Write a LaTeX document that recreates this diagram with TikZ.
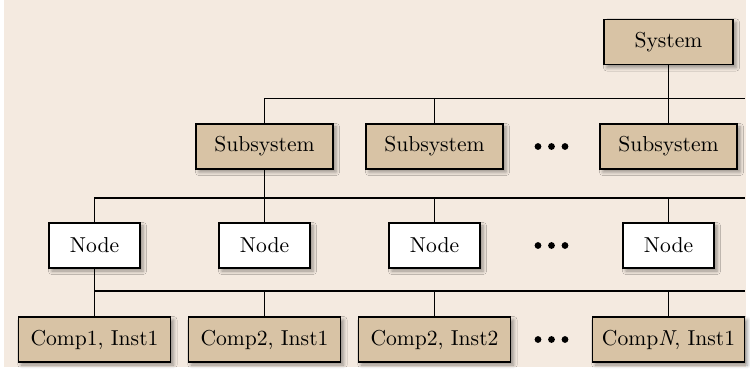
\documentclass[tikz,border=0pt]{standalone}
\usepackage{fontspec}
\usetikzlibrary{shadows.blur}
\definecolor{bgbeige}{HTML}{F4EAE0}
\definecolor{boxtan}{HTML}{D8C3A5}
\begin{document}
\begin{tikzpicture}[x=0.5pt, y=-0.5pt, font=\rmfamily\fontsize{10.8}{12}\selectfont,
  box/.style={draw, line width=0.7pt, inner sep=0pt, minimum height=22.5pt,
    blur shadow={shadow xshift=1.5pt, shadow yshift=-1.5pt, shadow blur radius=1.8pt, shadow opacity=40}},
  tanbox/.style={box, fill=boxtan},
  whitebox/.style={box, fill=white, minimum width=45.5pt},
  dot/.style={circle, fill, inner sep=0pt, minimum size=3.4pt},
  bus/.style={line width=0.75pt}]
\useasboundingbox (0,0) rectangle (750,373);
\fill[bgbeige] (4,0) rectangle (746,367);
\node[tanbox, minimum width=64.5pt] (sys) at (668.5,42){System};
\node[tanbox, minimum width=68.5pt] (sub1) at (264.5,146.5){Subsystem};
\node[tanbox, minimum width=68.5pt] (sub2) at (434.5,146.5){Subsystem};
\node[tanbox, minimum width=68.5pt] (sub3) at (668.5,146.5){Subsystem};
\node[whitebox] (node1) at (94.5,245.5){Node};
\node[whitebox] (node2) at (264.5,245.5){Node};
\node[whitebox] (node3) at (434.5,245.5){Node};
\node[whitebox] (node4) at (668.5,245.5){Node};
\node[tanbox, minimum width=76pt] (comp1) at (94.5,339.5){Comp1, Inst1};
\node[tanbox, minimum width=76pt] (comp2) at (264.5,339.5){Comp2, Inst1};
\node[tanbox, minimum width=76pt] (comp3) at (434.5,339.5){Comp2, Inst2};
\node[tanbox, minimum width=76pt] (comp4) at (668.5,339.5){Comp\textit{N}, Inst1};
% dots between the last two columns
\node[dot] (subdot1) at (538,146.5){};
\node[dot] (subdot2) at (551.5,146.5){};
\node[dot] (subdot3) at (565,146.5){};
\node[dot] (nodedot1) at (538,245.5){};
\node[dot] (nodedot2) at (551.5,245.5){};
\node[dot] (nodedot3) at (565,245.5){};
\node[dot] (compdot1) at (538,339.5){};
\node[dot] (compdot2) at (551.5,339.5){};
\node[dot] (compdot3) at (565,339.5){};
% buses
\coordinate (bus1) at (744.5,98.5);
\coordinate (bus2) at (744.5,198);
\coordinate (bus3) at (744.5,291);
\draw[bus](sys.south) -- (sys.south |- bus1);
\draw[bus](sub1.north) |- (bus1);
\draw[bus](sub2.north) -- (sub2.north |- bus1);
\draw[bus](sub3.north) -- (sub3.north |- bus1);
\draw[bus](sub1.south) -- (node2.north);
\draw[bus](node1.north) |- (bus2);
\draw[bus](node3.north) -- (node3.north |- bus2);
\draw[bus](node4.north) -- (node4.north |- bus2);
\draw[bus](node1.south) -- (comp1.north);
\draw[bus](comp1.north |- bus3) -- (bus3);
\draw[bus](comp2.north) -- (comp2.north |- bus3);
\draw[bus](comp3.north) -- (comp3.north |- bus3);
\draw[bus](comp4.north) -- (comp4.north |- bus3);
\end{tikzpicture}
\end{document}
